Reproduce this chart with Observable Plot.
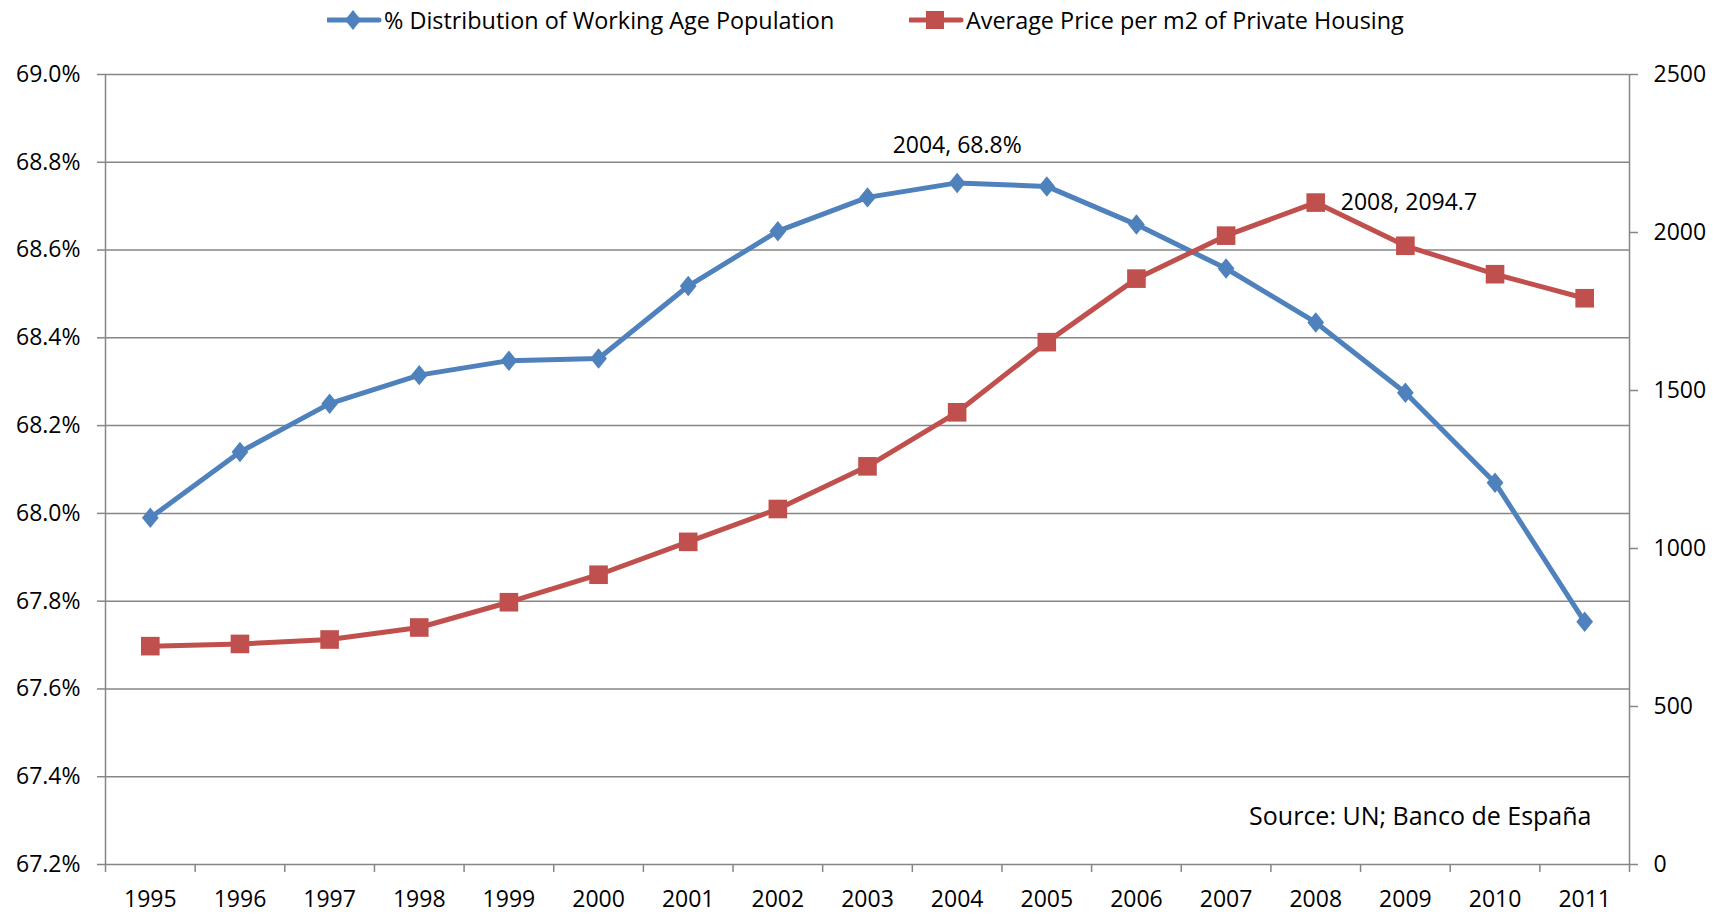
<!DOCTYPE html>
<html><head><meta charset="utf-8">
<script src="https://cdn.jsdelivr.net/npm/d3@7"></script>
<script src="https://cdn.jsdelivr.net/npm/@observablehq/plot@0.6"></script>
<style>
body{margin:0;background:#fff;font-family:"Open Sans",sans-serif;color:#000;}
#legend{position:relative;height:40px;width:1721px;}
#legend .item{position:absolute;top:0;height:40px;display:flex;align-items:center;font-size:23.4px;white-space:nowrap;}
#legend svg{display:block;}
</style></head><body>
<div id="legend"></div>
<div id="chart"></div>
<script>
// ---- data ----
const years = [1995,1996,1997,1998,1999,2000,2001,2002,2003,2004,2005,2006,2007,2008,2009,2010,2011];
const workingAgePct = [67.99,68.14,68.25,68.315,68.348,68.353,68.518,68.643,68.72,68.753,68.745,68.658,68.558,68.435,68.275,68.07,67.753];
const housingPrice = [691,698,712,750,830,917,1021,1125,1260,1431,1653,1854,1990,2094.7,1958,1868,1792];
const leftTicks = [67.2,67.4,67.6,67.8,68.0,68.2,68.4,68.6,68.8,69.0];
const rightTicks = [0,500,1000,1500,2000,2500];
const seriesNames = ["% Distribution of Working Age Population","Average Price per m2 of Private Housing"];
const sourceText = "Source: UN; Banco de España";
const blue = "#4F81BD", red = "#C0504D", gridColor = "#868686";

// map right-axis values into left-axis coordinates
const leftMin = 67.2, leftMax = 69.0, rightMax = 2500;
const priceToY = v => leftMin + v * (leftMax - leftMin) / rightMax;
const yToPrice = y => Math.round((y - leftMin) * rightMax / (leftMax - leftMin));

const rows = years.map((year, i) => ({year, pct: workingAgePct[i], price: housingPrice[i], priceY: priceToY(housingPrice[i])}));
const boundaries = years.map(y => y - 0.5).concat([years[years.length - 1] + 0.5]);

const diamond = {draw(ctx, size){const s=Math.sqrt(size);const h=s*0.55,w=s*0.45;ctx.moveTo(0,-h);ctx.lineTo(w,0);ctx.lineTo(0,h);ctx.lineTo(-w,0);ctx.closePath();}};

const chart = Plot.plot({
  width: 1721, height: 875,
  marginLeft: 105, marginRight: 92, marginTop: 34, marginBottom: 51,
  style: {fontFamily: "Open Sans", fontSize: "23px", color: "#000", background: "#fff"},
  x: {domain: [boundaries[0], boundaries[boundaries.length - 1]], label: null},
  y: {domain: [leftMin, leftMax], label: null},
  marks: [
    Plot.gridY(leftTicks, {stroke: gridColor, strokeOpacity: 1, strokeWidth: 1.5}),
    Plot.ruleX([boundaries[0], boundaries[boundaries.length - 1]], {stroke: gridColor, strokeWidth: 1.5}),
    Plot.axisY(leftTicks, {anchor: "left", label: null, tickSize: 8, tickPadding: 17, stroke: gridColor, strokeWidth: 1.5, fill: "#000", tickFormat: d => d.toFixed(1) + "%"}),
    Plot.axisY(rightTicks.map(priceToY), {anchor: "right", label: null, tickSize: 8, tickPadding: 16, stroke: gridColor, strokeWidth: 1.5, fill: "#000", tickFormat: d => String(yToPrice(d))}),
    Plot.axisX(boundaries, {label: null, tickSize: 8, stroke: gridColor, strokeWidth: 1.5, tickFormat: () => ""}),
    Plot.axisX(years, {label: null, tickSize: 0, tickPadding: 26, fill: "#000", tickFormat: d => String(d)}),
    Plot.line(rows, {x: "year", y: "pct", stroke: blue, strokeWidth: 5}),
    Plot.dot(rows, {x: "year", y: "pct", symbol: diamond, r: 10.5, fill: blue, stroke: "none"}),
    Plot.line(rows, {x: "year", y: "priceY", stroke: red, strokeWidth: 5}),
    Plot.dot(rows, {x: "year", y: "priceY", symbol: "square", r: 10.5, fill: red, stroke: "none"}),
    Plot.text(rows.filter(d => d.year === 2004), {x: "year", y: "pct", text: d => `${d.year}, ${d.pct.toFixed(1)}%`, dy: -37, fill: "#000"}),
    Plot.text(rows.filter(d => d.year === 2008), {x: "year", y: "priceY", text: d => `${d.year}, ${d.price}`, dx: 25, textAnchor: "start", fill: "#000"}),
    Plot.text([sourceText], {text: d => d, frameAnchor: "bottom-right", dx: -38, dy: -40, textAnchor: "end", fontSize: 25, fill: "#000"})
  ]
});
document.getElementById("chart").appendChild(chart);

// legend
const legend = document.getElementById("legend");
const items = [
  {name: seriesNames[0], color: blue, sym: "diamond", left: 327},
  {name: seriesNames[1], color: red, sym: "square", left: 909}
];
for (const it of items) {
  const div = document.createElement("div");
  div.className = "item";
  div.style.left = it.left + "px";
  const marker = it.sym === "diamond"
    ? `<path d="M26,10 L34,20 L26,30 L18,20 Z" fill="${it.color}"/>`
    : `<rect x="17" y="11" width="18" height="18" fill="${it.color}"/>`;
  div.innerHTML = `<svg width="56" height="40"><line x1="1" y1="20" x2="52" y2="20" stroke="${it.color}" stroke-width="5" stroke-linecap="round"/>${marker}</svg><span style="margin-left:1px">${it.name}</span>`;
  legend.appendChild(div);
}
</script>
</body></html>
